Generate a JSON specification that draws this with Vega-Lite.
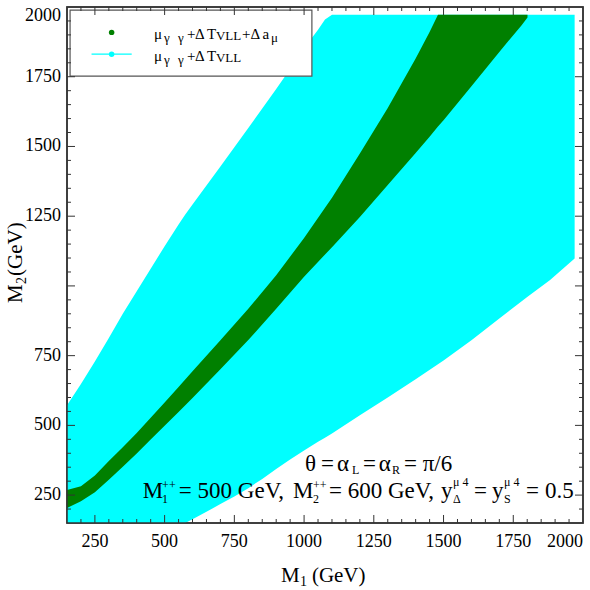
{
  "$schema": "https://vega.github.io/schema/vega-lite/v6.json",
  "width": 516,
  "height": 516,
  "autosize": {"type": "none"},
  "padding": {"left": 67, "top": 7, "right": 7, "bottom": 67},
  "background": "white",
  "config": {
    "view": {"stroke": "#333", "strokeWidth": 1.5},
    "axis": {"grid": false, "domain": false, "ticks": false}
  },
  "datasets": {
    "cyan": [
      {"M1": 150, "lo": 150, "hi": 572},
      {"M1": 200, "lo": 150, "hi": 648},
      {"M1": 250, "lo": 150, "hi": 729},
      {"M1": 300, "lo": 150, "hi": 813},
      {"M1": 350, "lo": 150, "hi": 900},
      {"M1": 400, "lo": 150, "hi": 981},
      {"M1": 450, "lo": 150, "hi": 1062},
      {"M1": 500, "lo": 150, "hi": 1142},
      {"M1": 550, "lo": 150, "hi": 1220},
      {"M1": 574, "lo": 150, "hi": 1256},
      {"M1": 600, "lo": 163, "hi": 1292},
      {"M1": 650, "lo": 190, "hi": 1360},
      {"M1": 700, "lo": 218, "hi": 1428},
      {"M1": 750, "lo": 245, "hi": 1497},
      {"M1": 800, "lo": 275, "hi": 1566},
      {"M1": 850, "lo": 308, "hi": 1636},
      {"M1": 900, "lo": 344, "hi": 1706},
      {"M1": 950, "lo": 378, "hi": 1778},
      {"M1": 1000, "lo": 410, "hi": 1852},
      {"M1": 1050, "lo": 441, "hi": 1918},
      {"M1": 1075, "lo": 456, "hi": 1955},
      {"M1": 1100, "lo": 471, "hi": 1972},
      {"M1": 1200, "lo": 536, "hi": 1972},
      {"M1": 1300, "lo": 600, "hi": 1972},
      {"M1": 1400, "lo": 665, "hi": 1972},
      {"M1": 1500, "lo": 733, "hi": 1972},
      {"M1": 1600, "lo": 805, "hi": 1972},
      {"M1": 1700, "lo": 883, "hi": 1972},
      {"M1": 1800, "lo": 960, "hi": 1972},
      {"M1": 1882, "lo": 1021, "hi": 1972},
      {"M1": 1970, "lo": 1098, "hi": 1972}
    ],
    "green": [
      {"M1": 150, "lo": 204, "hi": 268},
      {"M1": 200, "lo": 228, "hi": 282},
      {"M1": 250, "lo": 260, "hi": 320},
      {"M1": 300, "lo": 305, "hi": 372},
      {"M1": 350, "lo": 352, "hi": 422},
      {"M1": 400, "lo": 399, "hi": 473},
      {"M1": 450, "lo": 449, "hi": 527},
      {"M1": 500, "lo": 499, "hi": 582},
      {"M1": 550, "lo": 548, "hi": 638},
      {"M1": 600, "lo": 598, "hi": 694},
      {"M1": 700, "lo": 701, "hi": 805},
      {"M1": 800, "lo": 806, "hi": 918},
      {"M1": 900, "lo": 918, "hi": 1038},
      {"M1": 1000, "lo": 1033, "hi": 1172},
      {"M1": 1100, "lo": 1139, "hi": 1316},
      {"M1": 1200, "lo": 1247, "hi": 1475},
      {"M1": 1300, "lo": 1362, "hi": 1638},
      {"M1": 1400, "lo": 1477, "hi": 1815},
      {"M1": 1450, "lo": 1535, "hi": 1910},
      {"M1": 1480, "lo": 1572, "hi": 1972},
      {"M1": 1500, "lo": 1594, "hi": 1972},
      {"M1": 1600, "lo": 1716, "hi": 1972},
      {"M1": 1700, "lo": 1839, "hi": 1972},
      {"M1": 1780, "lo": 1935, "hi": 1972},
      {"M1": 1801, "lo": 1962, "hi": 1972}
    ],
    "major": [{"v": 250}, {"v": 500}, {"v": 750}, {"v": 1000}, {"v": 1250}, {"v": 1500}, {"v": 1750}],
    "minor": [{"v": 200}, {"v": 300}, {"v": 350}, {"v": 400}, {"v": 450}, {"v": 550}, {"v": 600}, {"v": 650}, {"v": 700}, {"v": 800}, {"v": 850}, {"v": 900}, {"v": 950}, {"v": 1050}, {"v": 1100}, {"v": 1150}, {"v": 1200}, {"v": 1300}, {"v": 1350}, {"v": 1400}, {"v": 1450}, {"v": 1550}, {"v": 1600}, {"v": 1650}, {"v": 1700}, {"v": 1800}, {"v": 1850}, {"v": 1900}, {"v": 1950}],
    "xlab": [{"v": 250, "label": "250"}, {"v": 500, "label": "500"}, {"v": 750, "label": "750"}, {"v": 1000, "label": "1000"}, {"v": 1250, "label": "1250"}, {"v": 1500, "label": "1500"}, {"v": 1750, "label": "1750"}],
    "xlabEnd": [{"v": 2000, "label": "2000"}],
    "ylab": [{"v": 250, "label": "250"}, {"v": 500, "label": "500"}, {"v": 750, "label": "750"}, {"v": 1250, "label": "1250"}, {"v": 1500, "label": "1500"}, {"v": 1750, "label": "1750"}],
    "ylabEnd": [{"v": 2000, "label": "2000"}],
    "xtitleBig": [{"x": 917, "y": -61.5, "t": "M"}, {"x": 1028, "y": -61.5, "t": "(GeV)"}],
    "xtitleSub": [{"x": 985, "y": -76, "t": "1"}],
    "ytitleBig": [{"x": -11.3, "y": 939, "t": "M"}, {"x": -11.3, "y": 1036, "t": "(GeV)"}],
    "ytitleSub": [{"x": 3, "y": 1007, "t": "2"}],
    "box": [{"x1": 161, "x2": 1028, "y1": 1752, "y2": 1989}],
    "frame": [{"x1": 150, "x2": 2000, "y1": 150, "y2": 2000}],
    "legline": [{"x1": 238, "x2": 382, "y": 1831}],
    "legpts": [
      {"M1": 310, "M2": 1909, "s": "green"},
      {"M1": 310, "M2": 1831, "s": "cyan"}
    ],
    "annBig": [
      {"t": "θ", "x": 1003, "y": 336},
      {"t": "=", "x": 1061, "y": 336},
      {"t": "α", "x": 1118, "y": 336},
      {"t": "=", "x": 1211, "y": 336},
      {"t": "α", "x": 1268, "y": 336},
      {"t": "= π/6", "x": 1358, "y": 336},
      {"t": "M", "x": 422, "y": 240},
      {"t": "= 500 GeV,", "x": 551, "y": 240},
      {"t": "M", "x": 960, "y": 240},
      {"t": "= 600 GeV,", "x": 1089, "y": 240},
      {"t": "y", "x": 1491, "y": 240},
      {"t": "=", "x": 1609, "y": 240},
      {"t": "y", "x": 1674, "y": 240},
      {"t": "=", "x": 1796, "y": 240},
      {"t": "0.5", "x": 1864, "y": 240}
    ],
    "annSmall": [
      {"t": "L", "x": 1172, "y": 326},
      {"t": "R", "x": 1315, "y": 326},
      {"t": "1", "x": 491, "y": 222},
      {"t": "++", "x": 491, "y": 272},
      {"t": "2", "x": 1032, "y": 222},
      {"t": "++", "x": 1032, "y": 272},
      {"t": "Δ", "x": 1534, "y": 222},
      {"t": "μ 4", "x": 1534, "y": 283},
      {"t": "S", "x": 1717, "y": 222},
      {"t": "μ 4", "x": 1717, "y": 283}
    ],
    "legBig": [
      {"t": "μ", "x": 462, "y": 1885},
      {"t": "+", "x": 580, "y": 1885},
      {"t": "Δ", "x": 609, "y": 1885},
      {"t": "T", "x": 652, "y": 1885},
      {"t": "+", "x": 777, "y": 1885},
      {"t": "Δ", "x": 808, "y": 1885},
      {"t": "a", "x": 851, "y": 1885},
      {"t": "μ", "x": 462, "y": 1806},
      {"t": "+", "x": 580, "y": 1806},
      {"t": "Δ", "x": 609, "y": 1806},
      {"t": "T", "x": 652, "y": 1806}
    ],
    "legSmall": [
      {"t": "γ", "x": 498, "y": 1874},
      {"t": "γ", "x": 548, "y": 1874},
      {"t": "VLL", "x": 684, "y": 1882},
      {"t": "μ", "x": 881, "y": 1874},
      {"t": "γ", "x": 498, "y": 1795},
      {"t": "γ", "x": 548, "y": 1795},
      {"t": "VLL", "x": 684, "y": 1803}
    ]
  },
  "layer": [
    {
      "data": {"name": "cyan"},
      "mark": {"type": "area", "color": "#00FFFF"},
      "encoding": {
        "x": {"field": "M1", "type": "quantitative", "scale": {"domain": [150, 2000], "nice": false, "zero": false}, "axis": null},
        "y": {"field": "lo", "type": "quantitative", "scale": {"domain": [150, 2000], "nice": false, "zero": false}, "axis": null},
        "y2": {"field": "hi"}
      }
    },
    {
      "data": {"name": "green"},
      "mark": {"type": "area", "color": "#008000"},
      "encoding": {
        "x": {"field": "M1", "type": "quantitative", "scale": {"domain": [150, 2000], "nice": false, "zero": false}, "axis": null},
        "y": {"field": "lo", "type": "quantitative", "scale": {"domain": [150, 2000], "nice": false, "zero": false}, "axis": null},
        "y2": {"field": "hi"}
      }
    },
    {
      "data": {"name": "box"},
      "mark": {"type": "rect", "fill": "white", "stroke": "#555", "strokeWidth": 1.2},
      "encoding": {
        "x": {"field": "x1", "type": "quantitative", "scale": {"domain": [150, 2000], "nice": false, "zero": false}, "axis": null},
        "x2": {"field": "x2"},
        "y": {"field": "y1", "type": "quantitative", "scale": {"domain": [150, 2000], "nice": false, "zero": false}, "axis": null},
        "y2": {"field": "y2"}
      }
    },
    {
      "data": {"name": "legline"},
      "mark": {"type": "rule", "color": "#00FFFF", "strokeWidth": 1.2},
      "encoding": {
        "x": {"field": "x1", "type": "quantitative", "scale": {"domain": [150, 2000], "nice": false, "zero": false}, "axis": null},
        "x2": {"field": "x2"},
        "y": {"field": "y", "type": "quantitative", "scale": {"domain": [150, 2000], "nice": false, "zero": false}, "axis": null}
      }
    },
    {
      "data": {"name": "major"},
      "mark": {"type": "rule", "color": "#333", "strokeWidth": 1},
      "encoding": {
        "x": {"field": "v", "type": "quantitative", "scale": {"domain": [150, 2000], "nice": false, "zero": false}, "axis": null},
        "y": {"datum": 150, "type": "quantitative", "scale": {"domain": [150, 2000], "nice": false, "zero": false}, "axis": null},
        "y2": {"datum": 178.7}
      }
    },
    {
      "data": {"name": "major"},
      "mark": {"type": "rule", "color": "#333", "strokeWidth": 1},
      "encoding": {
        "x": {"field": "v", "type": "quantitative", "scale": {"domain": [150, 2000], "nice": false, "zero": false}, "axis": null},
        "y": {"datum": 2000, "type": "quantitative", "scale": {"domain": [150, 2000], "nice": false, "zero": false}, "axis": null},
        "y2": {"datum": 1971.3}
      }
    },
    {
      "data": {"name": "major"},
      "mark": {"type": "rule", "color": "#333", "strokeWidth": 1},
      "encoding": {
        "y": {"field": "v", "type": "quantitative", "scale": {"domain": [150, 2000], "nice": false, "zero": false}, "axis": null},
        "x": {"datum": 150, "type": "quantitative", "scale": {"domain": [150, 2000], "nice": false, "zero": false}, "axis": null},
        "x2": {"datum": 178.7}
      }
    },
    {
      "data": {"name": "major"},
      "mark": {"type": "rule", "color": "#333", "strokeWidth": 1},
      "encoding": {
        "y": {"field": "v", "type": "quantitative", "scale": {"domain": [150, 2000], "nice": false, "zero": false}, "axis": null},
        "x": {"datum": 2000, "type": "quantitative", "scale": {"domain": [150, 2000], "nice": false, "zero": false}, "axis": null},
        "x2": {"datum": 1971.3}
      }
    },
    {
      "data": {"name": "minor"},
      "mark": {"type": "rule", "color": "#333", "strokeWidth": 1},
      "encoding": {
        "x": {"field": "v", "type": "quantitative", "scale": {"domain": [150, 2000], "nice": false, "zero": false}, "axis": null},
        "y": {"datum": 150, "type": "quantitative", "scale": {"domain": [150, 2000], "nice": false, "zero": false}, "axis": null},
        "y2": {"datum": 164.3}
      }
    },
    {
      "data": {"name": "minor"},
      "mark": {"type": "rule", "color": "#333", "strokeWidth": 1},
      "encoding": {
        "x": {"field": "v", "type": "quantitative", "scale": {"domain": [150, 2000], "nice": false, "zero": false}, "axis": null},
        "y": {"datum": 2000, "type": "quantitative", "scale": {"domain": [150, 2000], "nice": false, "zero": false}, "axis": null},
        "y2": {"datum": 1985.7}
      }
    },
    {
      "data": {"name": "minor"},
      "mark": {"type": "rule", "color": "#333", "strokeWidth": 1},
      "encoding": {
        "y": {"field": "v", "type": "quantitative", "scale": {"domain": [150, 2000], "nice": false, "zero": false}, "axis": null},
        "x": {"datum": 150, "type": "quantitative", "scale": {"domain": [150, 2000], "nice": false, "zero": false}, "axis": null},
        "x2": {"datum": 164.3}
      }
    },
    {
      "data": {"name": "minor"},
      "mark": {"type": "rule", "color": "#333", "strokeWidth": 1},
      "encoding": {
        "y": {"field": "v", "type": "quantitative", "scale": {"domain": [150, 2000], "nice": false, "zero": false}, "axis": null},
        "x": {"datum": 2000, "type": "quantitative", "scale": {"domain": [150, 2000], "nice": false, "zero": false}, "axis": null},
        "x2": {"datum": 1985.7}
      }
    },
    {
      "data": {"name": "frame"},
      "mark": {"type": "rect", "fill": "transparent", "stroke": "#333", "strokeWidth": 1.5},
      "encoding": {
        "x": {"field": "x1", "type": "quantitative", "scale": {"domain": [150, 2000], "nice": false, "zero": false}, "axis": null},
        "x2": {"field": "x2"},
        "y": {"field": "y1", "type": "quantitative", "scale": {"domain": [150, 2000], "nice": false, "zero": false}, "axis": null},
        "y2": {"field": "y2"}
      }
    },
    {
      "data": {"name": "legpts"},
      "mark": {"type": "circle", "size": 30, "opacity": 1},
      "encoding": {
        "x": {"field": "M1", "type": "quantitative", "scale": {"domain": [150, 2000], "nice": false, "zero": false}, "axis": null},
        "y": {"field": "M2", "type": "quantitative", "scale": {"domain": [150, 2000], "nice": false, "zero": false}, "axis": null},
        "color": {"field": "s", "type": "nominal", "scale": {"domain": ["green", "cyan"], "range": ["#008000", "#00FFFF"]}, "legend": null}
      }
    },
    {
      "data": {"name": "xlab"},
      "mark": {"type": "text", "font": "Liberation Serif", "fontSize": 18, "align": "center", "baseline": "top", "dy": 10, "color": "black"},
      "encoding": {
        "x": {"field": "v", "type": "quantitative", "scale": {"domain": [150, 2000], "nice": false, "zero": false}, "axis": null},
        "y": {"datum": 150, "type": "quantitative", "scale": {"domain": [150, 2000], "nice": false, "zero": false}, "axis": null},
        "text": {"field": "label"}
      }
    },
    {
      "data": {"name": "xlabEnd"},
      "mark": {"type": "text", "font": "Liberation Serif", "fontSize": 18, "align": "right", "baseline": "top", "dy": 10, "color": "black"},
      "encoding": {
        "x": {"field": "v", "type": "quantitative", "scale": {"domain": [150, 2000], "nice": false, "zero": false}, "axis": null},
        "y": {"datum": 150, "type": "quantitative", "scale": {"domain": [150, 2000], "nice": false, "zero": false}, "axis": null},
        "text": {"field": "label"}
      }
    },
    {
      "data": {"name": "ylab"},
      "mark": {"type": "text", "font": "Liberation Serif", "fontSize": 18, "align": "right", "baseline": "middle", "dx": -6, "color": "black"},
      "encoding": {
        "y": {"field": "v", "type": "quantitative", "scale": {"domain": [150, 2000], "nice": false, "zero": false}, "axis": null},
        "x": {"datum": 150, "type": "quantitative", "scale": {"domain": [150, 2000], "nice": false, "zero": false}, "axis": null},
        "text": {"field": "label"}
      }
    },
    {
      "data": {"name": "ylabEnd"},
      "mark": {"type": "text", "font": "Liberation Serif", "fontSize": 18, "align": "right", "baseline": "top", "dx": -6, "color": "black"},
      "encoding": {
        "y": {"field": "v", "type": "quantitative", "scale": {"domain": [150, 2000], "nice": false, "zero": false}, "axis": null},
        "x": {"datum": 150, "type": "quantitative", "scale": {"domain": [150, 2000], "nice": false, "zero": false}, "axis": null},
        "text": {"field": "label"}
      }
    },
    {
      "data": {"name": "xtitleBig"},
      "mark": {"type": "text", "font": "Liberation Serif", "fontSize": 21, "align": "left", "baseline": "alphabetic", "color": "black"},
      "encoding": {
        "x": {"field": "x", "type": "quantitative", "scale": {"domain": [150, 2000], "nice": false, "zero": false}, "axis": null},
        "y": {"field": "y", "type": "quantitative", "scale": {"domain": [150, 2000], "nice": false, "zero": false}, "axis": null},
        "text": {"field": "t"}
      }
    },
    {
      "data": {"name": "xtitleSub"},
      "mark": {"type": "text", "font": "Liberation Serif", "fontSize": 14, "align": "left", "baseline": "alphabetic", "color": "black"},
      "encoding": {
        "x": {"field": "x", "type": "quantitative", "scale": {"domain": [150, 2000], "nice": false, "zero": false}, "axis": null},
        "y": {"field": "y", "type": "quantitative", "scale": {"domain": [150, 2000], "nice": false, "zero": false}, "axis": null},
        "text": {"field": "t"}
      }
    },
    {
      "data": {"name": "ytitleBig"},
      "mark": {"type": "text", "font": "Liberation Serif", "fontSize": 21, "align": "left", "baseline": "alphabetic", "angle": 270, "color": "black"},
      "encoding": {
        "x": {"field": "x", "type": "quantitative", "scale": {"domain": [150, 2000], "nice": false, "zero": false}, "axis": null},
        "y": {"field": "y", "type": "quantitative", "scale": {"domain": [150, 2000], "nice": false, "zero": false}, "axis": null},
        "text": {"field": "t"}
      }
    },
    {
      "data": {"name": "ytitleSub"},
      "mark": {"type": "text", "font": "Liberation Serif", "fontSize": 14, "align": "left", "baseline": "alphabetic", "angle": 270, "color": "black"},
      "encoding": {
        "x": {"field": "x", "type": "quantitative", "scale": {"domain": [150, 2000], "nice": false, "zero": false}, "axis": null},
        "y": {"field": "y", "type": "quantitative", "scale": {"domain": [150, 2000], "nice": false, "zero": false}, "axis": null},
        "text": {"field": "t"}
      }
    },
    {
      "data": {"name": "annBig"},
      "mark": {"type": "text", "font": "Liberation Serif", "fontSize": 23, "align": "left", "baseline": "alphabetic", "color": "black"},
      "encoding": {
        "x": {"field": "x", "type": "quantitative", "scale": {"domain": [150, 2000], "nice": false, "zero": false}, "axis": null},
        "y": {"field": "y", "type": "quantitative", "scale": {"domain": [150, 2000], "nice": false, "zero": false}, "axis": null},
        "text": {"field": "t"}
      }
    },
    {
      "data": {"name": "annSmall"},
      "mark": {"type": "text", "font": "Liberation Serif", "fontSize": 12, "align": "left", "baseline": "alphabetic", "color": "black"},
      "encoding": {
        "x": {"field": "x", "type": "quantitative", "scale": {"domain": [150, 2000], "nice": false, "zero": false}, "axis": null},
        "y": {"field": "y", "type": "quantitative", "scale": {"domain": [150, 2000], "nice": false, "zero": false}, "axis": null},
        "text": {"field": "t"}
      }
    },
    {
      "data": {"name": "legBig"},
      "mark": {"type": "text", "font": "Liberation Serif", "fontSize": 15, "align": "left", "baseline": "alphabetic", "color": "black"},
      "encoding": {
        "x": {"field": "x", "type": "quantitative", "scale": {"domain": [150, 2000], "nice": false, "zero": false}, "axis": null},
        "y": {"field": "y", "type": "quantitative", "scale": {"domain": [150, 2000], "nice": false, "zero": false}, "axis": null},
        "text": {"field": "t"}
      }
    },
    {
      "data": {"name": "legSmall"},
      "mark": {"type": "text", "font": "Liberation Serif", "fontSize": 13, "align": "left", "baseline": "alphabetic", "color": "black"},
      "encoding": {
        "x": {"field": "x", "type": "quantitative", "scale": {"domain": [150, 2000], "nice": false, "zero": false}, "axis": null},
        "y": {"field": "y", "type": "quantitative", "scale": {"domain": [150, 2000], "nice": false, "zero": false}, "axis": null},
        "text": {"field": "t"}
      }
    }
  ]
}
